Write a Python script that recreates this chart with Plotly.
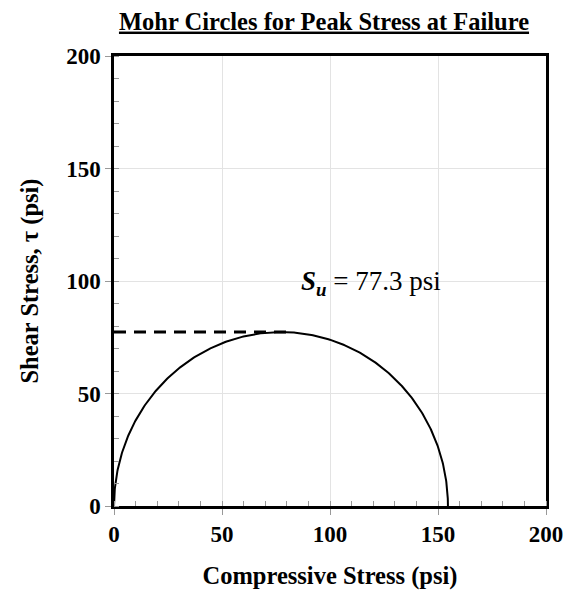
import numpy as np
import plotly.graph_objects as go

# Principal stresses at peak (unconfined compression), psi
sigma_3 = 0.0
sigma_1 = 154.6
s_u = 77.3  # undrained shear strength = radius of the Mohr circle
su_line_end = 83.0  # extent of the dashed strength line along sigma

x_ticks = [0, 50, 100, 150, 200]
y_ticks = [0, 50, 100, 150, 200]

center = (sigma_1 + sigma_3) / 2
radius = (sigma_1 - sigma_3) / 2
theta = np.linspace(np.pi, 0, 361)
circ_x = center + radius * np.cos(theta)
circ_y = radius * np.sin(theta)

SERIF = "Liberation Serif, Times New Roman, serif"

fig = go.Figure()
fig.add_trace(go.Scatter(x=circ_x, y=circ_y, mode="lines",
                         line=dict(color="black", width=2), showlegend=False,
                         hoverinfo="skip"))
fig.add_trace(go.Scatter(x=[0, su_line_end], y=[s_u, s_u], mode="lines",
                         line=dict(color="black", width=3, dash="12px,8px"),
                         showlegend=False, hoverinfo="skip"))

fig.add_annotation(x=85.5, y=99, xref="x", yref="y", xanchor="left", yanchor="middle",
                   text=f"<b><i>S</i></b><sub><b><i>u</i></b></sub> = {s_u} psi",
                   showarrow=False, font=dict(family=SERIF, size=27, color="black"))

axis_common = dict(
    range=[0, 200], showline=True, linecolor="black", linewidth=2.5, mirror=True,
    showgrid=True, gridcolor="#e3e3e3", gridwidth=1, zeroline=False, automargin=False,
    ticks="outside", ticklen=6, tickcolor="#999999", tickwidth=1,
    minor=dict(ticks="inside", ticklen=5, dtick=10, tickcolor="#999999", showgrid=False),
    tickfont=dict(family=SERIF, size=23, color="black", weight="bold"),
)

fig.update_xaxes(**axis_common, tickvals=x_ticks, ticktext=[str(v) for v in x_ticks],
                 title=dict(text="<b>Compressive Stress (psi)</b>",
                            font=dict(family=SERIF, size=24.5, color="black"), standoff=22))
fig.update_yaxes(**axis_common, tickvals=y_ticks, ticktext=[str(v) for v in y_ticks],
                 title=dict(text="<b>Shear Stress, τ (psi)</b>",
                            font=dict(family=SERIF, size=24.5, color="black"), standoff=21))

fig.update_layout(
    width=565, height=590,
    margin=dict(l=114, r=19, t=56, b=84),
    paper_bgcolor="white", plot_bgcolor="white",
    title=dict(text="<b><u>Mohr Circles for Peak Stress at Failure</u></b>",
               font=dict(family=SERIF, size=24.5, color="black"),
               x=324 / 565, xanchor="center", y=1 - 21 / 590, yanchor="middle"),
)

fig.write_html("out.html")
